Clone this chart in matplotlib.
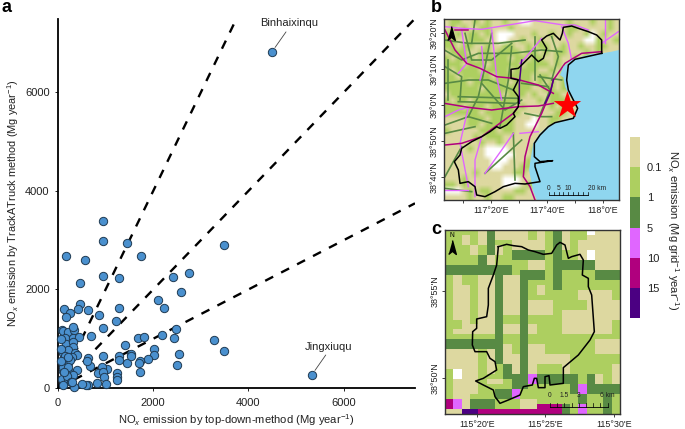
import numpy as np
import matplotlib
matplotlib.use('Agg')
import matplotlib.pyplot as plt
from matplotlib.colors import ListedColormap, BoundaryNorm, to_rgb
from matplotlib.cm import ScalarMappable

plt.rcParams['font.family'] = ['Liberation Sans', 'DejaVu Sans']
plt.rcParams['mathtext.fontset'] = 'custom'
plt.rcParams['mathtext.rm'] = 'Liberation Sans'
plt.rcParams['mathtext.it'] = 'Liberation Sans:italic'
plt.rcParams['mathtext.default'] = 'regular'

W, H = 685, 429

# Panel a: emission per district
top_down = [161,567,944,1441,1736,944,1287,468,2407,2750,2588,2092,2225,119,455,427,636,245,161,854,1280,1211,
            944,693,2483,2183,2435,1679,1811,1400,3274,2021,2008,1895,2546,2498,1727,1700,1727,1441,1526,1526,
            1274,1287,944,1035,917,846,944,972,1238,1245,1231,1001,812,636,588,504,636,672,609,3484,3484,938,
            84,112,217,336,322,140,308,448,168,322,322,112,217,357,392,287,182,112,217,392,98,252,84,217,322,
            336,112,60,150,250,100,190,270,60,200,300,130,60,220]
track_truck = [2680,2598,2984,2937,2686,2269,2226,2124,2260,2327,1949,1786,1631,1604,1698,1604,1576,1530,1435,1475,
               1617,1360,1218,1055,1198,1083,1008,1015,1028,866,968,792,676,595,690,460,548,513,318,507,683,642,
               656,568,656,385,433,298,318,230,298,230,162,75,108,60,55,90,603,447,554,751,2903,3396,
               1177,1164,1143,1177,1231,1008,1008,1028,893,941,825,704,771,704,670,636,602,467,501,365,352,298,183,162,264,
               27,61,800,650,560,420,250,120,540,430,130,330,1000,620]
binhai = (4492, 6821)
jingxi = (5331, 264)
slopes = [2.0, 1.0, 0.5]

# Colour classes of the grid maps
class_colors = ['#DDD8A0', '#ADCF60', '#588A44', '#E066FF', '#B0007E', '#4B0082']
class_bounds = [0, 0.1, 1, 5, 10, 15, 20]
class_ticks = [0.1, 1, 5, 10, 15]
sea_color = '#8FD6EF'
letters = 'TLGPMVW'

# Panel b background grid
grid_b = ["TLLTTLTLTTLTTWWTTTTTTLTTTLTTLT",
          "TLTLTTLLTTTLTTTTTTTTTLLTTTTTLT",
          "LTLTLLTLTWWWTTTLTTLTTLTTLWTLTT",
          "LLTTLLLTTWWTTLTTLTTTTTTTWWLTTL",
          "LLTLLTTLTTLLTTLTLLTTLTTLTTLLTT",
          "TLLLTTLLTLLLLTLLTLTLLTTTLTLTTT",
          "LTLLLTLLLLLTLLTLLTTLTTLTLTTTTT",
          "LLLTLLLTLLLLLTLLLLTLTTTTTTTTTT",
          "LTLLLLTLLLLTLLLLTTLTLTTTTTTTTT",
          "LLTLLLLLTLLLLLLTLLTTLLTTTTTTTT",
          "LLLLTLLLLLLTLLLTLTLTLLLTTTTTTT",
          "LLLLLLTLLLLLLLLTTLLTLLTTTTTTTT",
          "TLLLLLLLLLTLLLTLTTLLTTTTTTTTTT",
          "LTLLTLLLLLLLLTTTLTLLLTTTTTTTTT",
          "LLLTLLLTLLLLTLTTTTLTLTTTTTTTTT",
          "LLLLLLTLLLLLLTTTTTTLLTTTTTTTTT",
          "TTTTLLLTLLLLTTTWTTLLTTTTTTTTTT",
          "TTTTLLTLLLLLTTWWTTLTTTTTTTTTTT",
          "LTTTTTLLLTLLTTTTTTTTTTTTTTTTTT",
          "TTTTTLTLLLTTTTTTTTTTTTTTTTTTTT",
          "TTTTTTLTTLTTTTTTLTTTTTTTTTTTTT",
          "TTTTLTTWWWWTTTTLTTTTTTTTTTTTTT",
          "TTTTTTTWWWWWTTTLTTTTTTTTTTTTTT",
          "TTTTTTTTWWWTTTLTTTTTTTTTTTTTTT",
          "TTTTTTTTWWTTTLLTTTTTTTTTTTTTTT",
          "TTTTTLTTTTTTLLTTTTTTTTTTTTTTTT",
          "TTTLTTTTTTWWWTTTTTTTTTTTTTTTTT",
          "LLTLTTTTTTWWWTLLTTTTTTTTTTTTTT",
          "WWWTLTLLTTTTLLTTTTTTTTTTTTTTTT",
          "TTTTLTTLTTLLTTTTTTTTTTTTTTTTTT"]

# Panel c grid
grid_c = ["LLLLTGTTTTLTLGTLLWTTT",
          "LLTLTGTTTTLTLGTLLTTTT",
          "LLTLTGLLTTTTLGTLTTTTT",
          "LLLTLGTLTTTTLGTLTTTTT",
          "LLLTLGTLGGGGLGLLTWTTT",
          "LLLLGTLLGGGGLGLLTWTTT",
          "LLLLGTLLLLTTLGGGGGTTT",
          "GGGGGGGGLLTTLGGGGGTTT",
          "GGGGGGGGLGGGLGLLLLGGG",
          "LTLLTTGTTGGGLGLLLLGGG",
          "LTLLTTGTTGLLLGLLLLLLL",
          "LTTLTTGTTGLTLGLLLLLLL",
          "LTTLTTGTTGLTLLLLTTTTL",
          "LTTLTTGTTGLLLLLLTTTTL",
          "LTTLTTGTTGTTTLLLLTTTT",
          "LTTLTTGTTGTTTLLLLTTTT",
          "LTTLTTGTTGTTTLTTTTTTT",
          "LTTLTTGLLGLLLLTTTTTTT",
          "LLTLTTGLLGLLLLTTTTTTL",
          "LLTTTTGTTGTLLLTTTTTTL",
          "LTTTTTGTTGTLLLTTTTTTL",
          "LLLLLLGLLGLLLLLLLLLLL",
          "GGGGGGGLLGLLLLLLLLTTT",
          "GGGGGGGTLGTTLLLLLLTTT",
          "TTTTLTGTLGTTLLLLLLTTT",
          "TTTTLTGTTGTTTTTLLLLLL",
          "TTTTLTGTTGTTTTTLLLLLL",
          "TTTTLTLGTGTLLLTLLLLLT",
          "LWTTLTLGTGTLLLTLLLLLT",
          "LWTTLLLGGGPGGGGGLGTLT",
          "LTTTLTTLGGPGGGGGLGTLT",
          "LTTTLLLLGGLLLLLGPGGGG",
          "LTTTLLGGPLLLLLLGPGGGG",
          "LTTLLLGGPLLLLLLLGLLGL",
          "MPTGGGLLLTTLLLLLGLLGL",
          "MPTGGGLLLTTMMMGLPLLGL",
          "TTVVMMMMMMMMMMGLPLLGL"]

sea_b = [(582,150),(560,155),(530,160),(500,162),(470,170),(440,180),(415,200),(405,225),(415,232),(420,260),
         (432,285),(458,320),(450,350),(400,365),(370,378),(345,400),(325,430),(318,470),(312,510),(318,540),
         (325,575),(335,600),(582,600)]
outline_b = [(530,160),(530,120),(515,105),(490,95),(460,85),(440,78),(415,82),(412,100),(405,120),(385,100),
             (365,108),(350,120),(365,145),(355,175),(340,185),(320,165),(295,190),(280,205),(258,208),(258,235),
             (280,240),(265,270),(280,290),(280,320),(265,340),(270,350),(245,375),(225,385),(215,380),(195,395),
             (170,410),(140,425),(110,445),(105,465),(88,485),(100,510),(105,550),(130,545),(150,560),(155,585),
             (180,590),(210,575),(235,560),(270,550),(300,552),(345,545),(330,500),(330,490),(383,482),(345,485),
             (328,470),(328,430),(345,405),(370,380),(390,368),(445,355),(458,325),(445,300),(430,270),(425,240),
             (430,195),(450,178),(530,160)]
green_b = [[(58,150),(110,180),(160,160),(260,160),(350,150),(410,155)],
           [(60,250),(130,240),(190,240),(265,270)],
           [(100,290),(280,295)],
           [(100,305),(270,310)],
           [(200,100),(180,200),(160,290),(130,350)],
           [(260,140),(250,240),(225,380)],
           [(330,110),(330,240)],
           [(410,240),(340,230)],
           [(70,180),(70,300)],
           [(60,400),(150,380)],
           [(265,400),(270,540)],
           [(110,440),(60,530)],
           [(290,420),(180,520)],
           [(58,565),(140,575)],
           [(120,100),(140,180),(200,180),(260,130)],
           [(60,200),(110,230),(105,300)],
           [(170,250),(240,330),(290,300)],
           [(345,225),(375,270),(345,345)],
           [(58,120),(130,130),(220,130),(300,120)],
           [(150,60),(140,130)],
           [(380,110),(400,170),(380,240)],
           [(290,250),(370,260)],
           [(60,375),(130,350),(200,370)],
           [(300,340),(350,350),(380,350)]]
pink_b = [[(60,80),(110,85),(170,88),(250,75),(330,62),(415,75),(450,75),(490,90)],
          [(350,115),(300,175),(285,190)],
          [(170,140),(175,200),(165,240)],
          [(110,90),(125,190),(100,220)],
          [(200,90),(215,230),(230,300)],
          [(60,350),(100,330),(130,322),(105,430),(130,560)],
          [(170,410),(150,480),(150,590)],
          [(285,400),(340,395)],
          [(180,520),(230,450),(265,400)],
          [(410,80),(430,130),(440,180)],
          [(540,60),(540,130)],
          [(530,130),(580,95)],
          [(60,570),(130,570)]]
magenta_b = [[(60,90),(90,150),(125,190),(165,205),(215,230),(265,235),(340,255),(385,280)],
             [(385,240),(375,280),(350,340),(315,410),(300,470),(295,530),(315,560),(330,600)],
             [(58,310),(130,322),(200,330),(280,320),(340,318),(385,310)],
             [(60,435),(110,430),(170,410),(265,340),(280,320)],
             [(385,240),(420,190),(470,160),(530,155)],
             [(90,90),(130,90)]]
purple_b = [[(290,180),(283,250),(283,310)],
            [(385,240),(375,280),(360,310)]]

# Traced outline of panel c
outline_c = [(220,95),(245,88),(265,92),(290,95),(310,105),(330,110),(355,118),(380,115),(395,90),(405,82),(420,90),
             (430,130),(440,125),(465,118),(475,135),(472,180),(490,190),(490,215),(500,240),(508,350),(495,375),
             (460,420),(415,458),(415,505),(375,510),(372,482),(360,485),(360,518),(340,518),(335,490),(328,490),
             (322,510),(295,515),(285,540),(250,555),(225,565),(210,545),(205,525),(175,510),(152,498),(175,490),
             (215,465),(210,440),(195,430),(185,410),(150,410),(142,390),(143,350),(155,340),(155,312),(185,305),
             (190,270),(190,220),(205,180),(215,150),(220,95)]

north = [(0, 1), (0.55, -1), (0, -0.55), (-0.55, -1)]


def box(l, t, r, b):
    return fig.add_axes([l / W, 1 - b / H, (r - l) / W, (b - t) / H])


def lonlat_b(pts):
    p = np.array(pts, float)
    px, py = 425 + p[:, 0] / 3, p[:, 1] / 3
    return 117 + 20 / 60 + (px - 490.7) / 56 / 3, 39 - (py - 105) / 36 / 6


def lonlat_c(pts):
    p = np.array(pts, float)
    px, py = 425 + p[:, 0] / 3, 215 + p[:, 1] / 3
    return 115 + 20 / 60 + (px - 476.7) / 68.7 / 12, 38 + 55 / 60 - (py - 291) / 87.3 / 12


def raster(ax, rows, extent, interp):
    rgb = [to_rgb(c) for c in class_colors] + [(1, 1, 1)]
    img = np.array([[rgb[letters.index(c)] for c in r] for r in rows])
    ax.imshow(img, extent=extent, aspect='auto', interpolation=interp, zorder=1)


def style_map(ax):
    for s in ax.spines.values():
        s.set_linewidth(1.0)
        s.set_color('#333333')
        s.set_zorder(20)
    ax.tick_params(labelsize=6.5, length=2, width=0.6, pad=2, colors='#222222')
    for t in ax.get_yticklabels():
        t.set_rotation(90)
        t.set_va('center')


fig = plt.figure(figsize=(W / 100, H / 100), dpi=100)

# ---- a
ax = box(58, 18.6, 415, 388)
ax.set_xlim(0, 7500)
ax.set_ylim(0, 7500)
for s in slopes:
    ax.plot([0, 7500], [0, s * 7500], color='black', lw=1.7, dashes=(3.8, 3.8), zorder=2)
ax.scatter(top_down + [binhai[0], jingxi[0]], track_truck + [binhai[1], jingxi[1]], s=36, c='#4A90CE',
           edgecolors='#1F3A52', linewidths=0.7, zorder=3, clip_on=False)
ax.annotate('', xy=binhai, xytext=(4790, 7230), arrowprops=dict(arrowstyle='-', color='#444444', lw=0.6, shrinkA=0, shrinkB=4))
ax.annotate('', xy=jingxi, xytext=(5625, 670), arrowprops=dict(arrowstyle='-', color='#444444', lw=0.6, shrinkA=0, shrinkB=4))
ax.text(4849, 7410, 'Binhaixinqu', fontsize=8, ha='center', va='center', color='#222222')
ax.text(5688, 832, 'Jingxiuqu', fontsize=8, ha='center', va='center', color='#222222')
ax.spines[['top', 'right']].set_visible(False)
ax.spines[['left', 'bottom']].set_linewidth(1.3)
ax.set_xticks([0, 2000, 4000, 6000])
ax.set_yticks([0, 2000, 4000, 6000])
ax.tick_params(labelsize=8, length=2, width=0.7, colors='#222222')
ax.tick_params(axis='x', pad=5)
ax.tick_params(axis='y', pad=4)
ax.set_xlabel('NO$_{\\mathit{x}}$ emission by top-down-method (Mg year$^{-1}$)', fontsize=8.1, color='#222222', labelpad=3.5)
ax.set_ylabel('NO$_{\\mathit{x}}$ emission by TrackATruck method (Mg year$^{-1}$)', fontsize=7.9, color='#222222', labelpad=3)

# ---- b
bx = box(444, 19, 619, 200)
xb0, yb0 = lonlat_b([(57, 57)])
xb1, yb1 = lonlat_b([(582, 600)])
ext_b = (xb0[0], xb1[0], yb1[0], yb0[0])
raster(bx, grid_b, ext_b, 'bilinear')
for group, col, lw in [(green_b, class_colors[2], 1.2), (pink_b, class_colors[3], 1.0),
                       (magenta_b, class_colors[4], 1.1), (purple_b, class_colors[5], 1.1)]:
    for line in group:
        lx, ly = lonlat_b(line)
        bx.plot(lx, ly, color=col, lw=lw, zorder=3)
sx, sy = lonlat_b(sea_b)
bx.fill(sx, sy, color=sea_color, lw=0, zorder=4)
ox, oy = lonlat_b(outline_b)
bx.plot(ox, oy, color='black', lw=1.1, zorder=5)
sx, sy = lonlat_b([(425, 315)])
bx.scatter(sx, sy, marker='*', s=430, color='#FF0000', linewidths=0, zorder=6)
nx, ny = lonlat_b([(78, 100)])
bx.plot(nx, ny, marker=north, ms=10, color='black', zorder=7)
bx.set_xlim(ext_b[0], ext_b[1])
bx.set_ylim(ext_b[2], ext_b[3])
bx.set_xticks([117 + 10 / 60, 117 + 20 / 60, 117.5, 117 + 40 / 60, 117 + 50 / 60, 118])
bx.set_xticklabels(['', "117°20'E", '', "117°40'E", '', "118°0'E"])
bx.set_yticks([38 + 40 / 60, 38 + 50 / 60, 39, 39 + 10 / 60, 39 + 20 / 60])
bx.set_yticklabels(["38°40'N", "38°50'N", "39°0'N", "39°10'N", "39°20'N"])
style_map(bx)
# scale bar b
sb_km = [0, 5, 10, 20]
km0 = lonlat_b([(372, 585)])
km_deg = (lonlat_b([(488, 585)])[0][0] - km0[0][0]) / 20
lev = km0[1][0]
bx.plot([km0[0][0], km0[0][0] + 20 * km_deg], [lev, lev], color='black', lw=0.6, zorder=7)
for k in np.arange(0, 20.1, 2.5):
    bx.plot([km0[0][0] + k * km_deg] * 2, [lev, lev + 0.012], color='black', lw=0.5, zorder=7)
for k in sb_km:
    bx.text(km0[0][0] + k * km_deg, lev + 0.03, str(k) if k < 20 else '20 km', fontsize=4.8, ha='center' if k < 20 else 'left',
            va='center', color='#222222', zorder=7)

# ---- c
cx = box(445, 230, 620, 414)
xc0, yc0 = lonlat_c([(60, 45)])
xc1, yc1 = lonlat_c([(585, 597)])
ext_c = (xc0[0], xc1[0], yc1[0], yc0[0])
raster(cx, grid_c, ext_c, 'nearest')
ox, oy = lonlat_c(outline_c)
cx.plot(ox, oy, color='black', lw=1.1, zorder=5)
nx, ny = lonlat_c([(82, 95)])
cx.plot(nx, ny, marker=north, ms=10, color='black', zorder=7)
tx, ty = lonlat_c([(81, 62)])
cx.text(tx[0], ty[0], 'N', fontsize=4.8, ha='center', va='center', zorder=7)
cx.set_xlim(ext_c[0], ext_c[1])
cx.set_ylim(ext_c[2], ext_c[3])
cx.set_xticks([115 + 20 / 60, 115 + 25 / 60, 115.5])
cx.set_xticklabels(["115°20'E", "115°25'E", "115°30'E"])
cx.set_yticks([38 + 50 / 60, 38 + 55 / 60])
cx.set_yticklabels(["38°50'N", "38°55'N"])
style_map(cx)
# scale bar c
km0 = lonlat_c([(375, 577)])
km_deg = (lonlat_c([(548, 577)])[0][0] - km0[0][0]) / 6
lev = km0[1][0]
cx.plot([km0[0][0], km0[0][0] + 6 * km_deg], [lev, lev], color='black', lw=0.6, zorder=7)
for k in np.arange(0, 6.1, 0.75):
    cx.plot([km0[0][0] + k * km_deg] * 2, [lev, lev + 0.004], color='black', lw=0.5, zorder=7)
for k, lab in [(0, '0'), (1.5, '1.5'), (3, '3'), (6, '6 km')]:
    cx.text(km0[0][0] + k * km_deg, lev + 0.011, lab, fontsize=4.8, ha='center', va='center', color='#222222', zorder=7)

# ---- colour bar
cb_ax = box(630, 137.3, 640, 317.7)
norm = BoundaryNorm(class_bounds, len(class_colors))
cb = fig.colorbar(ScalarMappable(norm=norm, cmap=ListedColormap(class_colors)), cax=cb_ax, spacing='uniform',
                  ticks=class_ticks)
cb.ax.invert_yaxis()
cb.ax.minorticks_off()
cb.ax.set_yticks(class_ticks)
cb.ax.set_yticklabels(['0.1', '1', '5', '10', '15'])
cb.ax.tick_params(length=0, labelsize=8, pad=5, colors='#222222')
cb.outline.set_visible(False)
fig.text(673 / W, 1 - 230 / H, 'NO$_{\\mathit{x}}$ emission (Mg grid$^{-1}$ year$^{-1}$)', rotation=270, fontsize=8,
         ha='center', va='center', color='#222222')

# panel letters
fig.text(2 / W, 1 - 8 / H, 'a', fontsize=13, fontweight='bold', ha='left', va='center')
fig.text(431 / W, 1 - 8 / H, 'b', fontsize=13, fontweight='bold', ha='left', va='center')
fig.text(431 / W, 1 - 229 / H, 'c', fontsize=13, fontweight='bold', ha='left', va='center')

fig.savefig('out.png', dpi=100)
